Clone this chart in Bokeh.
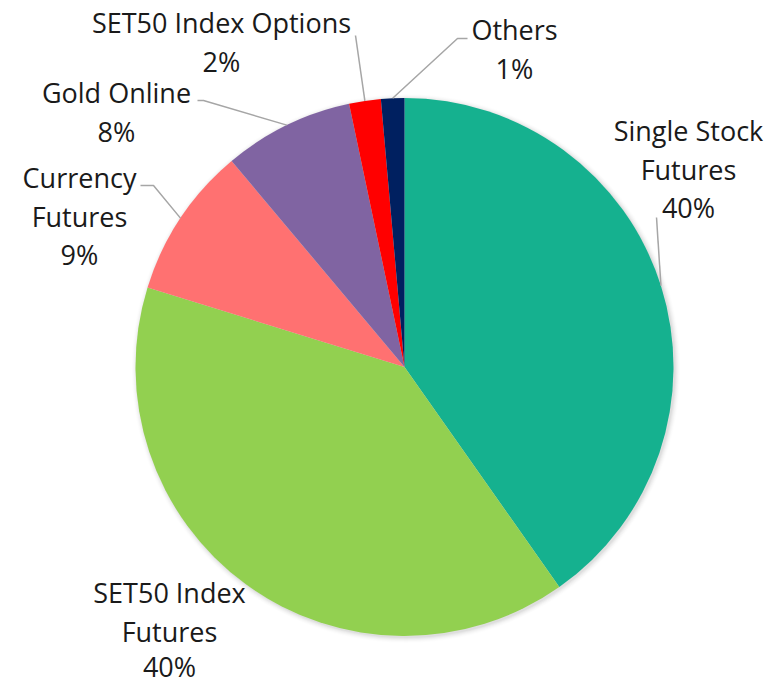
import math
from bokeh.plotting import figure
from bokeh.models import Range1d
from bokeh.core.properties import value
from bokeh.embed import file_html
from bokeh.resources import INLINE

# ---- data ----
categories = ["Single Stock Futures", "SET50 Index Futures", "Currency Futures",
              "Gold Online", "SET50 Index Options", "Others"]
shares = [40.2, 39.5, 9.1, 7.8, 1.9, 1.4]
colors = ["#15B18F", "#92D050", "#FF7171", "#8064A2", "#FF0000", "#002060"]
label_lines = [["Single Stock", "Futures"], ["SET50 Index", "Futures"], ["Currency", "Futures"],
               ["Gold Online"], ["SET50 Index Options"], ["Others"]]

# ---- layout (pixel coords, y measured from top) ----
W, H = 776, 685
CX, CY, R = 404, 366.5, 269
# (center x, first line middle y)
label_anchor = [(688, 130), (169, 592), (79, 177), (116, 92), (221, 22), (514, 29)]
line_gap = 38.5
# leader: elbow point and end point (None = no leader)
leaders = [((656, 217), (656, 217)), None, ((153, 185), (140, 185)),
           ((203, 100), (197, 100)), ((355, 35), (355, 35)), ((457, 38), (467, 38))]

def fy(y):
    return H - y

p = figure(width=W, height=H, output_backend="svg", toolbar_location=None,
           x_range=Range1d(0, W), y_range=Range1d(0, H), min_border=0)
p.axis.visible = False
p.grid.visible = False
p.outline_line_color = None
p.background_fill_color = "white"

# soft shadow
for i, a in enumerate([0.035, 0.03, 0.025, 0.018, 0.012, 0.008]):
    p.circle(x=[CX + 1.5], y=[fy(CY) - 1.5], radius=R + 0.5 + i, fill_color="black",
             fill_alpha=a, line_color=None)

total = sum(shares)
cum = 0.0
mids = []
for cat, s, c in zip(categories, shares, colors):
    a0 = cum / total * 360.0
    cum += s
    a1 = cum / total * 360.0
    mids.append((a0 + a1) / 2)
    p.wedge(x=[CX], y=[fy(CY)], radius=R,
            start_angle=math.radians(90 - a0), end_angle=math.radians(90 - a1),
            direction="clock", fill_color=c, line_color=None)

# leaders
for mid, ld in zip(mids, leaders):
    if ld is None:
        continue
    sx = CX + R * math.sin(math.radians(mid))
    sy = CY - R * math.cos(math.radians(mid))
    (ex, ey), (tx, ty) = ld
    p.line(x=[sx, ex, tx], y=[fy(sy), fy(ey), fy(ty)], line_color="#A6A6A6", line_width=1.5)

# labels
for lines, s, (lx, ly) in zip(label_lines, shares, label_anchor):
    allines = lines + [f"{round(s / total * 100)}%"]
    for k, t in enumerate(allines):
        p.text(x=[lx], y=[fy(min(ly + k * line_gap, 666))], text=[t], text_align="center",
               text_baseline="middle", text_font=value("Open Sans"), text_font_size="27px",
               text_color="#1a1a1a")

open("out.html", "w").write(file_html(p, INLINE))
